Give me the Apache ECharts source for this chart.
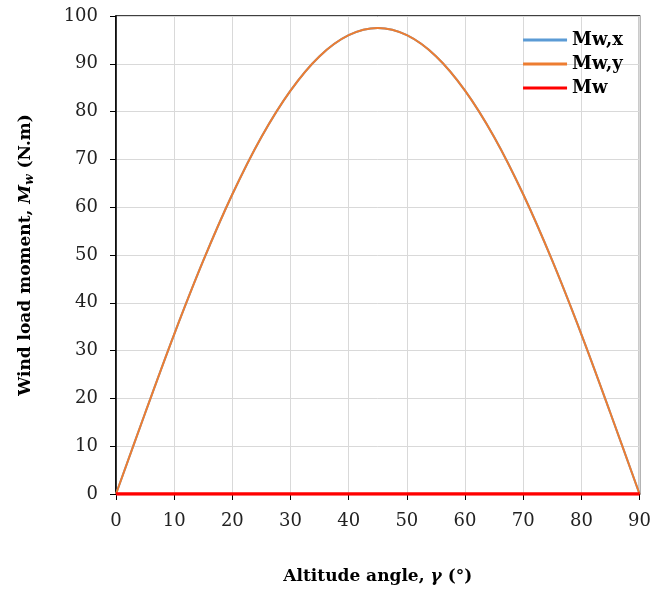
<!DOCTYPE html>
<html>
<head>
<meta charset="utf-8">
<script src="https://cdn.jsdelivr.net/npm/echarts@6/dist/echarts.min.js"></script>
<style>
  html, body { margin: 0; padding: 0; background: #fff; }
  #chart { width: 654px; height: 590px; }
</style>
</head>
<body>
<div id="chart"></div>
<script>
// Altitude angle (deg) and wind load moment components (N.m)
var altitude = [0, 5, 10, 15, 20, 25, 30, 35, 40, 45, 50, 55, 60, 65, 70, 75, 80, 85, 90];
var mwX = [0, 16.9, 33.4, 48.8, 62.7, 74.7, 84.4, 91.6, 96.0, 97.5, 96.0, 91.6, 84.4, 74.7, 62.7, 48.8, 33.4, 16.9, 0];
var mwY = [0, 16.9, 33.4, 48.8, 62.7, 74.7, 84.4, 91.6, 96.0, 97.5, 96.0, 91.6, 84.4, 74.7, 62.7, 48.8, 33.4, 16.9, 0];
var mw  = [0, 0, 0, 0, 0, 0, 0, 0, 0, 0, 0, 0, 0, 0, 0, 0, 0, 0, 0];

var xTicks = [0, 10, 20, 30, 40, 50, 60, 70, 80, 90];
var yTicks = [0, 10, 20, 30, 40, 50, 60, 70, 80, 90, 100];

function pairs(xs, ys) {
  return xs.map(function (x, i) { return [x, ys[i]]; });
}

var serif = '"DejaVu Serif", "Liberation Serif", serif';
var chart = echarts.init(document.getElementById('chart'), null, { renderer: 'canvas' });

chart.setOption({
  animation: false,
  backgroundColor: '#fff',
  grid: {
    left: 116, right: 14, top: 16, bottom: 95,
    show: true, borderColor: '#000', borderWidth: 1.5
  },
  legend: {
    orient: 'vertical',
    right: 26, top: 26,
    itemWidth: 44, itemHeight: 3, itemGap: 6,
    icon: 'rect',
    textStyle: { fontFamily: serif, fontWeight: 'bold', fontSize: 18, color: '#000' },
    data: ['Mw,x', 'Mw,y', 'Mw']
  },
  xAxis: {
    type: 'value',
    min: xTicks[0], max: xTicks[xTicks.length - 1], interval: 10,
    axisLine: { show: true, onZero: false, lineStyle: { color: '#000', width: 1.5 } },
    axisTick: { show: true, inside: false, length: 6, lineStyle: { color: '#000' } },
    axisLabel: { fontFamily: serif, fontSize: 18, color: '#222', margin: 18 },
    splitLine: { show: true, lineStyle: { color: '#d9d9d9', width: 1 } },
    name: '{n|Altitude angle, }{i|γ}{n| (°)}',
    nameLocation: 'middle', nameGap: 74,
    nameTextStyle: {
      rich: {
        n: { fontFamily: serif, fontWeight: 'bold', fontSize: 17, color: '#000' },
        i: { fontFamily: serif, fontWeight: 'bold', fontStyle: 'italic', fontSize: 17, color: '#000' }
      }
    }
  },
  yAxis: {
    type: 'value',
    min: yTicks[0], max: yTicks[yTicks.length - 1], interval: 10,
    axisLine: { show: true, lineStyle: { color: '#000', width: 1.5 } },
    axisTick: { show: true, inside: false, length: 6, lineStyle: { color: '#000' } },
    axisLabel: { fontFamily: serif, fontSize: 18, color: '#222', margin: 18 },
    splitLine: { show: true, lineStyle: { color: '#d9d9d9', width: 1 } },
    name: '{n|Wind load moment, }{i|M}{s|w}{n| (N.m)}',
    nameLocation: 'middle', nameGap: 80,
    nameTextStyle: {
      rich: {
        n: { fontFamily: serif, fontWeight: 'bold', fontSize: 17, color: '#000' },
        i: { fontFamily: serif, fontWeight: 'bold', fontStyle: 'italic', fontSize: 17, color: '#000' },
        s: { fontFamily: serif, fontWeight: 'bold', fontStyle: 'italic', fontSize: 12, color: '#000', padding: [8, 0, 0, 0] }
      }
    }
  },
  series: [
    {
      name: 'Mw,x', type: 'line', data: pairs(altitude, mwX),
      smooth: 0.35, showSymbol: false, symbol: 'none',
      lineStyle: { color: '#5B9BD5', width: 2 }, itemStyle: { color: '#5B9BD5' }
    },
    {
      name: 'Mw,y', type: 'line', data: pairs(altitude, mwY),
      smooth: 0.35, showSymbol: false, symbol: 'none',
      lineStyle: { color: '#ED7D31', width: 2 }, itemStyle: { color: '#ED7D31' }
    },
    {
      name: 'Mw', type: 'line', data: pairs(altitude, mw),
      showSymbol: false, symbol: 'none',
      lineStyle: { color: '#FF0000', width: 3.5 }, itemStyle: { color: '#FF0000' }
    }
  ]
});
</script>
</body>
</html>
